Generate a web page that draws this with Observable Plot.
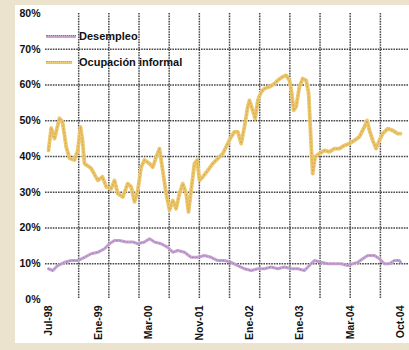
<!DOCTYPE html>
<html>
<head>
<meta charset="utf-8">
<script src="https://cdn.jsdelivr.net/npm/d3@7"></script>
<script src="https://cdn.jsdelivr.net/npm/@observablehq/plot@0.6"></script>
<style>
  html, body { margin: 0; padding: 0; background: #ebe3cd; }
  #wrap { position: relative; width: 409px; height: 350px; background: #ebe3cd; overflow: hidden; }
  #chart { position: absolute; left: 15px; top: 5px; width: 394px; height: 338px; background: #fff; }
  #chart svg { display: block; background: #fff; font-family: "Liberation Sans", Arial, sans-serif; }
  .leg { position: absolute; left: 46px; font: bold 11px "Liberation Sans", Arial, sans-serif; color: #111; display: flex; align-items: center; white-space: nowrap; }
  .sw { width: 30px; height: 3px; margin-right: 3px; }
</style>
</head>
<body>
<div id="wrap">
  <div id="chart"></div>
  <div class="leg" style="top:30px"><div class="sw" style="background:#c9a3cc;border-top:1px dotted #7070d0;height:2px"></div>Desempleo</div>
  <div class="leg" style="top:56px"><div class="sw" style="background:#e9c96b;border-top:1px dotted #e39a55;height:2px;width:26px;margin-right:7px"></div>Ocupación informal</div>
</div>
<script>
// x positions are in "period" units (0 = Jul-98 ... 35 = Oct-04 on the category axis)
const tickLabels = ["Jul-98", "Ene-99", "Mar-00", "Nov-01", "Ene-02", "Ene-03", "Mar-04", "Oct-04"];
const tickPos = [0, 5, 10, 15, 20, 25, 30, 35];
const gridXPos = [3, 6, 9, 12, 15, 18, 21, 24, 27, 30, 33];
const gridYVals = [10, 20, 30, 40, 50, 60, 70];
const yTicks = [0, 10, 20, 30, 40, 50, 60, 70, 80];

const informalT = [0, 0.27, 0.6, 1.09, 1.39, 1.76, 2.09, 2.58, 2.91, 3.18, 3.38, 3.58, 4.24, 4.9, 5.37, 5.74, 6.23, 6.56, 6.89, 7.39, 7.88, 8.22, 8.55, 8.88, 9.21, 9.54, 10.04, 10.37, 10.71, 11.03, 11.2, 11.36, 11.7, 12.03, 12.36, 12.69, 13.02, 13.35, 13.69, 13.92, 14.18, 14.51, 14.78, 15.01, 15.34, 15.84, 16.33, 16.83, 17.33, 17.66, 18.16, 18.49, 18.82, 19.16, 19.48, 19.81, 19.98, 20.31, 20.55, 20.81, 21.14, 21.47, 21.97, 22.47, 22.79, 23.29, 23.63, 23.96, 24.19, 24.38, 24.62, 24.95, 25.28, 25.62, 25.87, 26.11, 26.27, 26.51, 26.94, 27.44, 27.93, 28.43, 28.93, 29.42, 29.92, 30.42, 30.91, 31.41, 31.68, 31.91, 32.24, 32.57, 32.9, 33.23, 33.73, 34.22, 34.72, 35];
const informalV = [41.7, 48, 45, 50.7, 49.7, 42.7, 39.5, 39, 41.7, 48.3, 44.5, 38, 36.7, 33.3, 34.3, 31.5, 31, 33.3, 29.6, 28.7, 32.4, 31.5, 27.3, 30.5, 37, 39, 38, 37, 39.9, 42.2, 39, 36, 29.6, 25, 27.7, 25.4, 29.6, 32.4, 29.6, 24.5, 30.5, 38, 39, 33.3, 34.3, 36.1, 38, 39.4, 40.8, 42.7, 45.5, 46.9, 46.9, 43.6, 48.3, 53.9, 55.7, 52.9, 50.6, 55.7, 58, 59, 59.5, 60.4, 61.3, 62.3, 62.7, 61.3, 57.6, 52.9, 53.9, 59.5, 61.8, 61.3, 57.6, 43.6, 35.2, 39.9, 40.8, 41.7, 41.3, 42.2, 42.2, 43.1, 43.6, 44.5, 45.5, 48.3, 50.1, 47.3, 44.5, 42.2, 44.5, 46.4, 47.8, 47.3, 46.4, 46.4];

const desempleoT = [0, 0.43, 0.92, 1.59, 2.26, 2.91, 3.58, 4.24, 4.9, 5.57, 6.06, 6.56, 7.06, 7.72, 8.38, 8.88, 9.54, 10.04, 10.54, 11.2, 11.86, 12.36, 12.85, 13.52, 14.18, 14.84, 15.51, 16.17, 16.83, 17.5, 18.16, 18.82, 19.48, 20.15, 20.81, 21.47, 22.14, 22.79, 23.46, 24.13, 24.78, 25.45, 25.94, 26.44, 27.11, 27.76, 28.43, 29.09, 29.75, 30.25, 30.75, 31.24, 31.74, 32.41, 32.9, 33.4, 33.9, 34.39, 34.89, 35];
const desempleoV = [8.6, 8.1, 9.5, 10.4, 10.9, 10.9, 11.8, 12.8, 13.2, 14.2, 15.6, 16.5, 16.5, 16.1, 16.1, 15.6, 16.1, 17, 16.1, 15.6, 14.6, 13.2, 13.7, 13.2, 11.8, 11.8, 12.3, 11.8, 10.9, 10.9, 10.4, 9.5, 8.6, 8.1, 8.6, 8.6, 9.1, 8.6, 9.1, 8.6, 8.6, 8.1, 9.5, 10.9, 10.4, 10, 10, 10, 9.5, 10, 10.4, 11.4, 12.3, 12.3, 11.4, 10, 10, 10.9, 10.9, 10.4];

const informal = informalT.map((t, i) => ({t, v: informalV[i]}));
const desempleo = desempleoT.map((t, i) => ({t, v: desempleoV[i]}));

const gridStyle = {stroke: "#333", strokeOpacity: 0.9, strokeWidth: 1.5, strokeDasharray: "1.6,1"};

const chart = Plot.plot({
  width: 394,
  height: 338,
  marginLeft: 33,
  marginRight: 9,
  marginTop: 8,
  marginBottom: 44,
  style: {background: "#fff", fontFamily: "Liberation Sans, Arial, sans-serif"},
  x: {domain: [0, 35], label: null},
  y: {domain: [0, 80], label: null},
  marks: [
    Plot.ruleY(gridYVals, {...gridStyle, insetLeft: -3, insetRight: -9}),
    Plot.ruleX(gridXPos, {...gridStyle}),
    Plot.line(desempleo, {x: "t", y: "v", stroke: "#c9a3cc", strokeWidth: 3}),
    Plot.line(desempleo, {x: "t", y: "v", stroke: "#6f6fd0", strokeWidth: 1, strokeOpacity: 0.6, strokeDasharray: "1,2.5"}),
    Plot.line(informal, {x: "t", y: "v", stroke: "#e9c96b", strokeWidth: 3.8}),
    Plot.line(informal, {x: "t", y: "v", stroke: "#e0944f", strokeWidth: 1.2, strokeOpacity: 0.65, strokeDasharray: "1,2.5"}),
    Plot.axisY(yTicks, {label: null, tickSize: 0, tickPadding: 8, tickFormat: d => d + "%", fontSize: 10.5, fontWeight: "bold", fill: "#111"}),
    Plot.axisX(tickPos, {label: null, tickSize: 0, tickPadding: 6, tickRotate: -90, tickFormat: (d) => tickLabels[tickPos.indexOf(d)], fontSize: 10.5, fontWeight: "bold", fill: "#111"})
  ]
});
document.getElementById("chart").appendChild(chart);
</script>
</body>
</html>
